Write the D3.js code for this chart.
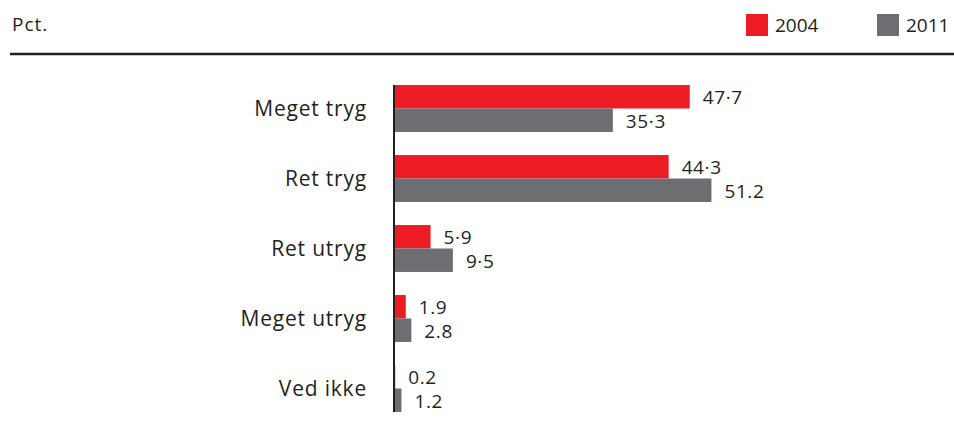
<!DOCTYPE html>
<html>
<head>
<meta charset="utf-8">
<script src="https://cdn.jsdelivr.net/npm/d3@7"></script>
<style>
  body { margin: 0; background: #fff; }
  text { font-family: "Open Sans", sans-serif; fill: #231f20; }
</style>
</head>
<body>
<svg id="chart" width="954" height="423"></svg>
<script>
// data
let categories = ["Meget tryg", "Ret tryg", "Ret utryg", "Meget utryg", "Ved ikke"];
let seriesNames = ["2004", "2011"];
let values2004 = [47.7, 44.3, 5.9, 1.9, 0.2];
let values2011 = [35.3, 51.2, 9.5, 2.8, 1.2];
let labels2004 = ["47·7", "44·3", "5·9", "1.9", "0.2"];
let labels2011 = ["35·3", "51.2", "9·5", "2.8", "1.2"];
let colors = ["#ed1c24", "#6d6e71"];

let svg = d3.select("#chart");

let x = d3.scaleLinear().domain([0, 100]).range([394, 1014]);
let y = d3.scaleBand()
    .domain(categories)
    .range([73.5, 423.5])
    .paddingInner(0.33)
    .paddingOuter(0.165);
let ySub = d3.scaleBand().domain(seriesNames).range([0, y.bandwidth()]);
let color = d3.scaleOrdinal().domain(seriesNames).range(colors);

let rows = categories.map((c, i) => ({
    cat: c,
    bars: [
        { s: "2004", v: values2004[i], label: labels2004[i] },
        { s: "2011", v: values2011[i], label: labels2011[i] }
    ]
}));

// header
svg.append("text")
    .attr("x", 12).attr("y", 31)
    .style("font-size", "19px")
    .style("letter-spacing", "1px")
    .text("Pct.");

svg.append("line")
    .attr("x1", 10).attr("x2", 954)
    .attr("y1", 54).attr("y2", 54)
    .attr("stroke", "#231f20")
    .attr("stroke-width", 2.5);

// legend
let legendX = [746, 877];
let legend = svg.selectAll("g.legend")
    .data(seriesNames)
    .enter().append("g")
    .attr("class", "legend")
    .attr("transform", (d, i) => `translate(${legendX[i]}, 14)`);
legend.append("rect")
    .attr("width", 22).attr("height", 22)
    .attr("fill", d => color(d));
legend.append("text")
    .attr("x", 29).attr("y", 18)
    .style("font-size", "19px")
    .text(d => d);

// groups
let group = svg.selectAll("g.row")
    .data(rows)
    .enter().append("g")
    .attr("class", "row")
    .attr("transform", d => `translate(0, ${y(d.cat)})`);

group.append("text")
    .attr("x", 367)
    .attr("y", y.bandwidth() / 2 + 3.5)
    .attr("dy", "0.18em")
    .attr("text-anchor", "end")
    .style("font-size", "21px")
    .style("letter-spacing", "0.8px")
    .text(d => d.cat);

let bar = group.selectAll("g.bar")
    .data(d => d.bars)
    .enter().append("g")
    .attr("class", "bar");

bar.append("rect")
    .attr("x", x(0))
    .attr("y", d => ySub(d.s))
    .attr("width", d => x(d.v) - x(0))
    .attr("height", ySub.bandwidth())
    .attr("fill", d => color(d.s));

bar.append("text")
    .attr("x", d => x(d.v) + 13)
    .attr("y", d => ySub(d.s) + ySub.bandwidth() / 2 + 1)
    .attr("dy", "0.35em")
    .style("font-size", "19px")
    .style("letter-spacing", "0.6px")
    .text(d => d.label);

// axis line
svg.append("line")
    .attr("x1", x(0)).attr("x2", x(0))
    .attr("y1", y(categories[0]))
    .attr("y2", y(categories[categories.length - 1]) + y.bandwidth())
    .attr("stroke", "#231f20")
    .attr("stroke-width", 2);
</script>
</body>
</html>
